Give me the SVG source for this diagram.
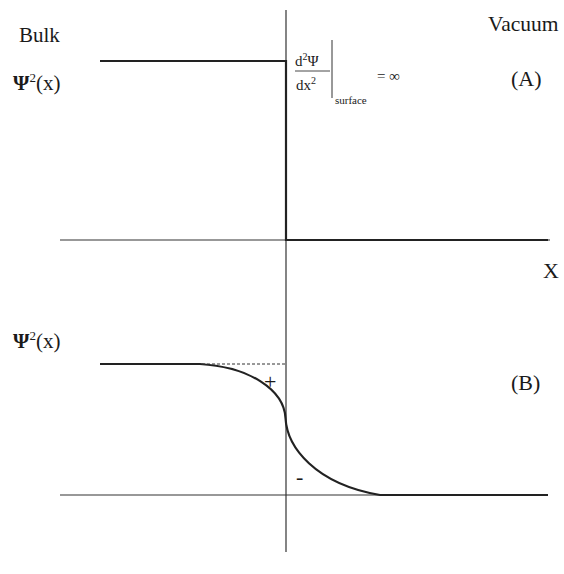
<svg xmlns="http://www.w3.org/2000/svg" width="564" height="574" viewBox="0 0 564 574">
<style>
.t{font-family:"Liberation Serif",serif;fill:#1a1a1a}
.ax{stroke:#333;stroke-width:1.2;fill:none}
.th{stroke:#222;stroke-width:2.2;fill:none}
.b{font-weight:bold}
</style>
<rect width="564" height="574" fill="#fff"/>
<g id="axes">
<line class="ax" x1="286" y1="10" x2="286" y2="552"/>
<line class="ax" x1="60" y1="240" x2="550" y2="240"/>
<line class="ax" x1="60" y1="495" x2="548" y2="495"/>
</g>
<g id="curveA">
<path class="th" d="M100,61 H286 V240 H548"/>
</g>
<g id="curveB">
<path class="th" d="M100,364 H200 C250,367 284,390 285.5,418 C287,447 315,484 380,495 H548"/>
<line x1="202" y1="364" x2="285" y2="364" stroke="#333" stroke-width="1" stroke-dasharray="3,2"/>
</g>
<g id="labels">
<text class="t" x="19" y="42" font-size="21">Bulk</text>
<text class="t" x="13" y="90" font-size="21"><tspan class="b">Ψ</tspan><tspan font-size="13" dy="-8">2</tspan><tspan dy="8">(x)</tspan></text>
<text class="t" x="13" y="348" font-size="21"><tspan class="b">Ψ</tspan><tspan font-size="13" dy="-8">2</tspan><tspan dy="8">(x)</tspan></text>
<text class="t" x="488" y="31" font-size="21.5">Vacuum</text>
<text class="t" x="511" y="86" font-size="22">(A)</text>
<text class="t" x="511" y="390" font-size="22">(B)</text>
<text class="t" x="543" y="278" font-size="22">X</text>
<text class="t" x="264" y="389" font-size="22">+</text>
<text class="t" x="296" y="484" font-size="22">-</text>
</g>
<g id="formula">
<text class="t" x="295" y="66" font-size="15">d<tspan font-size="10" dy="-6">2</tspan><tspan dy="6">Ψ</tspan></text>
<line x1="295" y1="71" x2="330" y2="71" stroke="#333" stroke-width="0.9"/>
<text class="t" x="296" y="90" font-size="15">dx<tspan font-size="10" dy="-6">2</tspan></text>
<line x1="332" y1="40" x2="332" y2="98" stroke="#333" stroke-width="1"/>
<text class="t" x="335" y="104" font-size="11">surface</text>
<text class="t" x="377" y="81" font-size="15">= ∞</text>
</g>
</svg>
